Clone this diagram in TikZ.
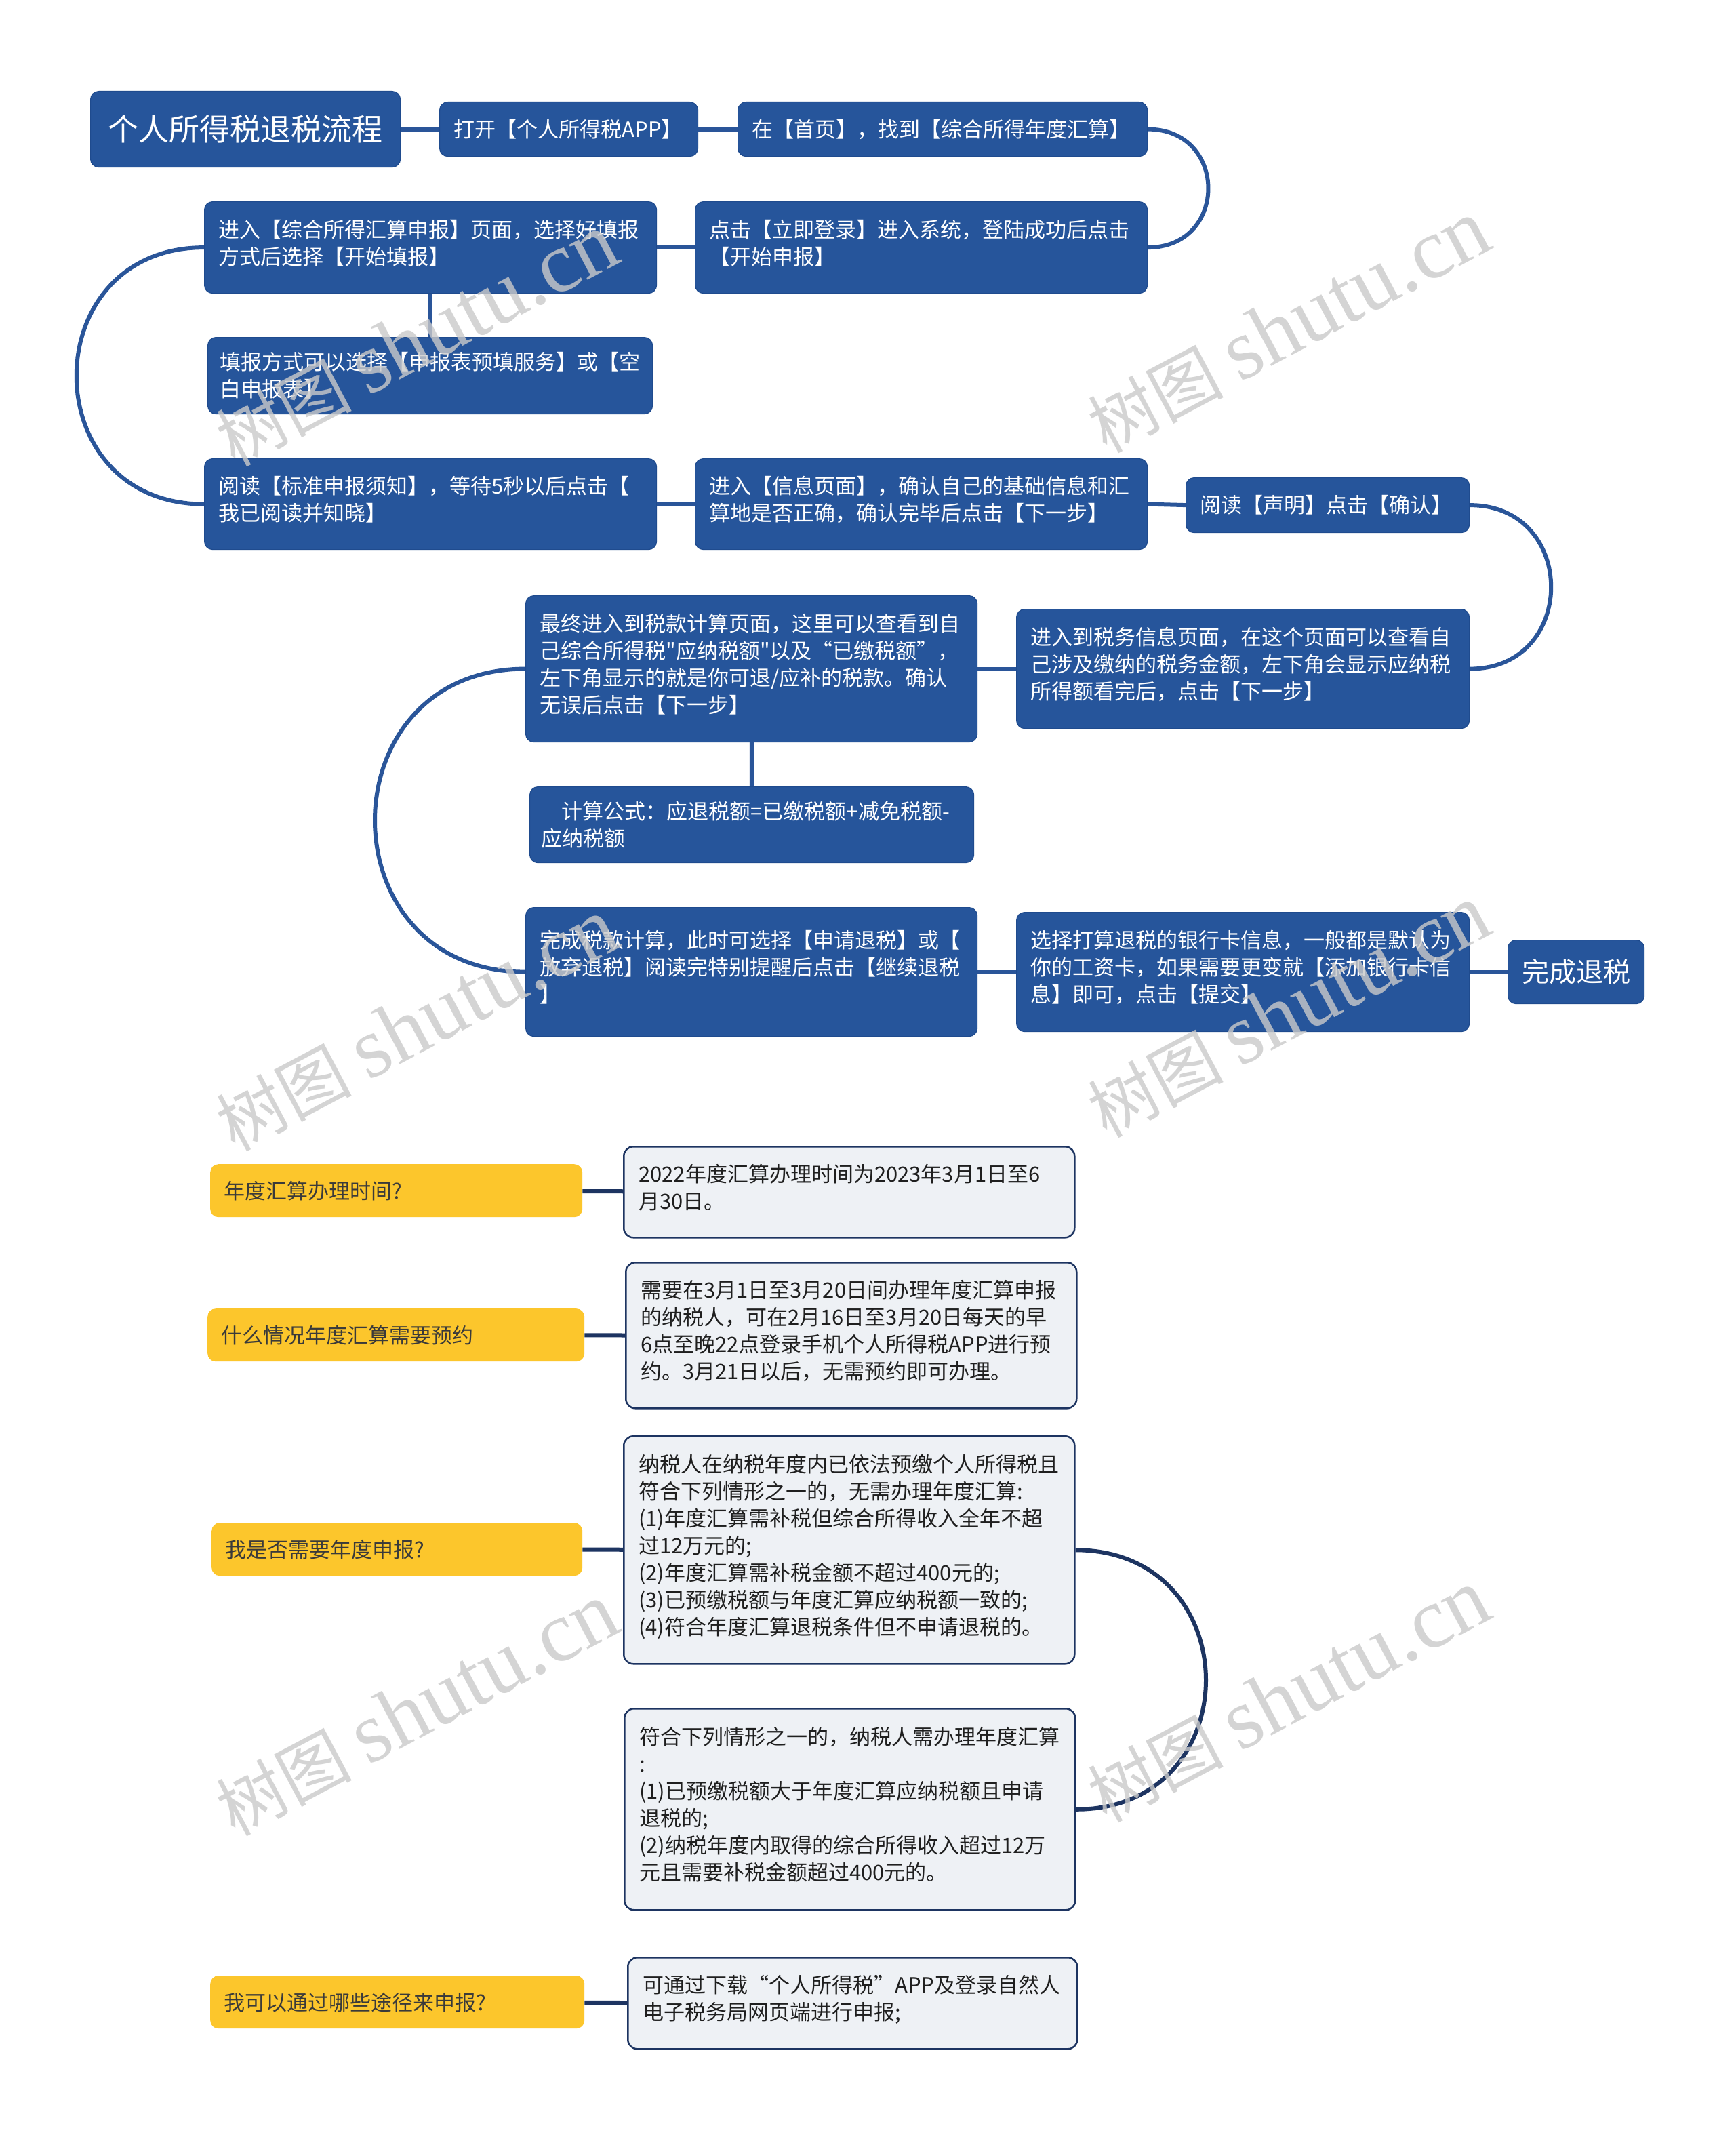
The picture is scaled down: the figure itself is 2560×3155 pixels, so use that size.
\documentclass[tikz,border=0pt]{standalone}
\usepackage{fontspec}
\setmainfont{Noto Sans CJK SC}
\newfontfamily\cjkfont{Noto Sans CJK SC}
\newfontfamily\markfont{Liberation Serif}
\usetikzlibrary{positioning}
\definecolor{stepblue}{HTML}{26559B}
\definecolor{stepedge}{HTML}{1F4B8E}
\definecolor{linkblue}{HTML}{2A5599}
\definecolor{navy}{HTML}{1D3461}
\definecolor{askyellow}{HTML}{FCC62C}
\definecolor{ansgray}{HTML}{EEF1F5}
\definecolor{asktext}{HTML}{3A3A3A}
\definecolor{markgray}{HTML}{CACACA}
\newcommand{\bodysize}{\fontsize{31}{40}\selectfont}

\begin{document}
\begin{tikzpicture}[x=1pt,y=-1pt,
  box/.style={rectangle,rounded corners=12pt,anchor=north west,align=left,
    inner ysep=0pt,inner xsep=21pt,font=\bodysize,
    execute at begin node={\rule{0pt}{31.8pt}},
    execute at end node={\rule[-8.2pt]{0pt}{8.2pt}}},
  stepbox/.style={box,draw=stepedge,line width=1.2pt,fill=stepblue,text=white},
  tall/.style={execute at end node={\rule[-22pt]{0pt}{22pt}}},
  headbox/.style={rectangle,rounded corners=12pt,anchor=north west,inner sep=0pt,
    draw=stepedge,line width=1.2pt,fill=stepblue,text=white},
  askbox/.style={box,fill=askyellow,text=asktext,inner xsep=20pt,minimum height=78pt},
  ansbox/.style={box,rounded corners=14pt,draw=navy,line width=2.5pt,fill=ansgray,
    text=black!88,inner xsep=22pt,text width=621pt,tall},
  link/.style={draw=linkblue,line width=6pt},
  asklink/.style={draw=navy,line width=6pt},
  wmark/.style={anchor=base west,rotate=28,inner sep=0pt,text=markgray,opacity=0.8,
    font=\markfont\fontsize{127}{127}\selectfont}]
\fill[white] (0,0) rectangle (2560,3155);
\useasboundingbox (0,0) rectangle (2560,3155);

% Refund steps
\node[headbox,minimum width=457pt,minimum height=112pt,font=\fontsize{45}{54}\selectfont]
  (title) at (133,134) {个人所得税退税流程};
\node[stepbox,text width=339pt,minimum height=80pt] (openapp) at (648,150) {打开【个人所得税APP】};
\node[stepbox,text width=562pt,minimum height=80pt] (home) at (1088,150) {在【首页】，找到【综合所得年度汇算】};
\node[stepbox,tall,text width=625pt,minimum height=135pt] (login) at (1025,297)
  {点击【立即登录】进入系统，登陆成功后点击\\【开始申报】};
\node[stepbox,tall,text width=625pt,minimum height=135pt] (enter) at (301,297)
  {进入【综合所得汇算申报】页面，选择好填报\\方式后选择【开始填报】};
\node[stepbox,inner xsep=18pt,text width=620pt,minimum height=113pt] (mode) at (306,497)
  {填报方式可以选择【申报表预填服务】或【空\\白申报表】};
\node[stepbox,tall,text width=625pt,minimum height=134pt] (readnote) at (301,676)
  {阅读【标准申报须知】，等待5秒以后点击【\\我已阅读并知晓】};
\node[stepbox,tall,text width=625pt,minimum height=134pt] (info) at (1025,676)
  {进入【信息页面】，确认自己的基础信息和汇\\算地是否正确，确认完毕后点击【下一步】};
\node[stepbox,text width=376pt,minimum height=81pt] (confirm) at (1749,704) {阅读【声明】点击【确认】};
\node[stepbox,tall,text width=626pt,minimum height=176pt] (taxinfo) at (1499,898)
  {进入到税务信息页面，在这个页面可以查看自\\己涉及缴纳的税务金额，左下角会显示应纳税\\所得额看完后，点击【下一步】};
\node[stepbox,tall,text width=624pt,minimum height=216pt] (taxcalc) at (775,878)
  {最终进入到税款计算页面，这里可以查看到自\\己综合所得税\textquotedbl 应纳税额\textquotedbl 以及“已缴税额”，\\左下角显示的就是你可退/应补的税款。确认\\无误后点击【下一步】};
\node[stepbox,inner xsep=17pt,text width=621pt,minimum height=112pt] (formula) at (781,1160)
  {\hspace*{30pt}计算公式：应退税额=已缴税额+减免税额-\\应纳税额};
\node[stepbox,tall,text width=624pt,minimum height=190pt] (done) at (775,1338)
  {完成税款计算，此时可选择【申请退税】或【\\放弃退税】阅读完特别提醒后点击【继续退税\\】};
\node[stepbox,tall,text width=626pt,minimum height=176pt] (bank) at (1499,1345)
  {选择打算退税的银行卡信息，一般都是默认为\\你的工资卡，如果需要更变就【添加银行卡信\\息】即可，点击【提交】};
\node[headbox,minimum width=201pt,minimum height=94pt,font=\fontsize{40}{48}\selectfont]
  (finish) at (2224,1386) {完成退税};

\draw[link] (title) -- (openapp);
\draw[link] (openapp) -- (home);
\draw[link] (home.east) .. controls +(119,0) and +(119,0) .. (login.east);
\draw[link] (login) -- (enter);
\draw[link] (enter) -- (mode);
\draw[link] (enter.west) .. controls +(-251,0) and +(-251,0) .. (readnote.west);
\draw[link] (readnote) -- (info);
\draw[link] (info.east) -- (confirm.west);
\draw[link] (confirm.east) .. controls +(160,0) and +(160,0) .. (taxinfo.east);
\draw[link] (taxinfo.west) -- (taxcalc.east);
\draw[link] (taxcalc) -- (formula);
\draw[link] (taxcalc.west) .. controls +(-296,0) and +(-296,0) .. (done.west);
\draw[link] (done.east) -- (bank.west);
\draw[link] (bank.east) -- (finish.west);

% Questions and answers
\node[askbox,text width=509pt] (when) at (310,1717) {年度汇算办理时间?};
\node[askbox,text width=516pt] (booking) at (306,1930) {什么情况年度汇算需要预约};
\node[askbox,text width=507pt] (need) at (312,2246) {我是否需要年度申报?};
\node[askbox,text width=512pt] (channel) at (310,2914) {我可以通过哪些途径来申报?};

\node[ansbox,minimum height=134pt] (whenans) at (919,1690)
  {2022年度汇算办理时间为2023年3月1日至6\\月30日。};
\node[ansbox,minimum height=215pt] (bookingans) at (922,1861)
  {需要在3月1日至3月20日间办理年度汇算申报\\的纳税人，可在2月16日至3月20日每天的早\\6点至晚22点登录手机个人所得税APP进行预\\约。3月21日以后，无需预约即可办理。};
\node[ansbox,minimum height=336pt] (noneed) at (919,2117)
  {纳税人在纳税年度内已依法预缴个人所得税且\\符合下列情形之一的，无需办理年度汇算:\\(1)年度汇算需补税但综合所得收入全年不超\\过12万元的;\\(2)年度汇算需补税金额不超过400元的;\\(3)已预缴税额与年度汇算应纳税额一致的;\\(4)符合年度汇算退税条件但不申请退税的。};
\node[ansbox,minimum height=297pt] (mustdo) at (920,2519)
  {符合下列情形之一的，纳税人需办理年度汇算\\:\\(1)已预缴税额大于年度汇算应纳税额且申请\\退税的;\\(2)纳税年度内取得的综合所得收入超过12万\\元且需要补税金额超过400元的。};
\node[ansbox,text width=619pt,minimum height=135pt] (channelans) at (925,2886)
  {可通过下载“个人所得税”APP及登录自然人\\电子税务局网页端进行申报;};

\draw[asklink] (when) -- (whenans);
\draw[asklink] (booking) -- (bookingans);
\draw[asklink] (need) -- (noneed);
\draw[asklink] (noneed.east) .. controls +(256,0) and +(256,0) .. (mustdo.east);
\draw[asklink] (channel) -- (channelans);

% Watermark
\foreach \wx/\wy [count=\i] in {346/690,1632/670,346/1700,1632/1680,346/2710,1632/2690}
  \node[wmark] (wm\i) at (\wx,\wy) {{\cjkfont\fontsize{100}{100}\selectfont 树图}\hspace{24pt}shutu.cn};
\end{tikzpicture}
\end{document}
